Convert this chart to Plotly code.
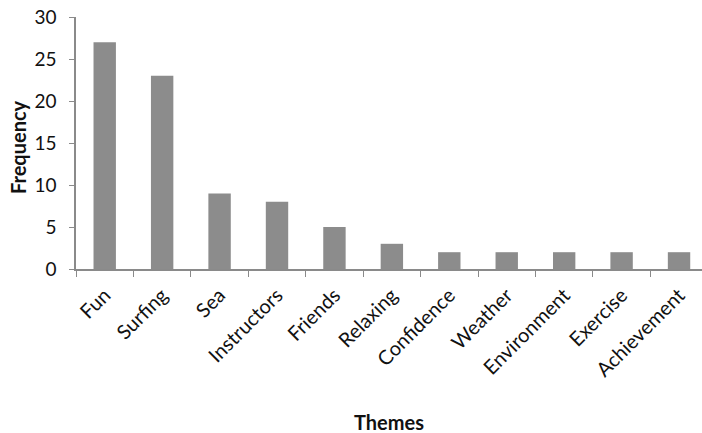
import plotly.graph_objects as go

themes = ["Fun", "Surfing", "Sea", "Instructors", "Friends", "Relaxing",
          "Confidence", "Weather", "Environment", "Exercise", "Achievement"]
frequency = [27, 23, 9, 8, 5, 3, 2, 2, 2, 2, 2]
y_ticks = [0, 5, 10, 15, 20, 25, 30]

fig = go.Figure(go.Bar(x=themes, y=frequency, marker_color="#8c8c8c",
                       marker_line_width=0, width=0.39))

fig.update_layout(
    width=702, height=433,
    margin=dict(l=76, r=0, t=17, b=164),
    paper_bgcolor="white", plot_bgcolor="white",
    font=dict(family="Lato", color="#111111"),
    showlegend=False,
    annotations=[
        dict(text="<b>Themes</b>", xref="paper", yref="paper", x=0.5, y=-0.607,
             xanchor="center", yanchor="middle", showarrow=False,
             font=dict(size=20)),
        dict(text="<b>Frequency</b>", xref="paper", yref="paper", x=-0.0927, y=0.484,
             xanchor="center", yanchor="middle", showarrow=False, textangle=-90,
             font=dict(size=20)),
    ],
)
fig.update_xaxes(
    type="category", range=[-0.5, 10.4], automargin=False,
    showline=True, linecolor="#8a8a8a", linewidth=1.5,
    ticks="outside", tickson="boundaries", ticklen=6, tickcolor="#8a8a8a",
    tickangle=-45, tickfont=dict(size=20), ticklabelstandoff=5,
    showgrid=False,
)
fig.update_yaxes(
    range=[0, 30], tickvals=y_ticks, automargin=False,
    showline=True, linecolor="#8a8a8a", linewidth=1.5,
    ticks="outside", ticklen=5, tickcolor="#8a8a8a",
    tickfont=dict(size=19), ticklabelstandoff=9,
    showgrid=False, zeroline=False,
)

fig.write_html("out.html", config={"displayModeBar": False},
               post_script="document.body.style.margin='0';document.body.style.overflow='hidden';")
